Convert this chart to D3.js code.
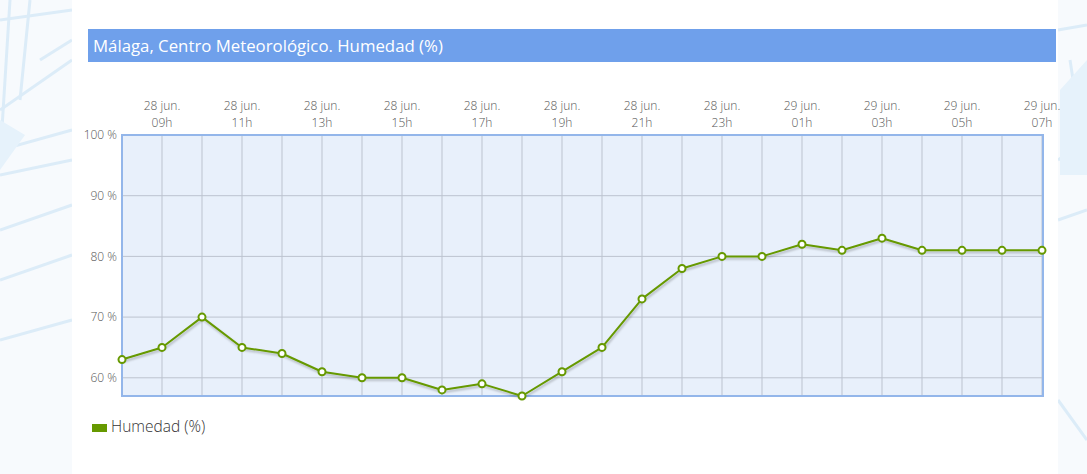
<!DOCTYPE html>
<html>
<head>
<meta charset="utf-8">
<script src="https://cdn.jsdelivr.net/npm/d3@7"></script>
<style>
  body { margin: 0; background: #f7fafd; font-family: "Open Sans", sans-serif; }
</style>
</head>
<body>
<div id="chart"></div>
<script>
// hourly humidity readings, 28 jun. 08h -> 29 jun. 07h
const days = ['28 jun.', '28 jun.', '28 jun.', '28 jun.', '28 jun.', '28 jun.', '28 jun.', '28 jun.',
              '28 jun.', '28 jun.', '28 jun.', '28 jun.', '28 jun.', '28 jun.', '28 jun.', '28 jun.',
              '29 jun.', '29 jun.', '29 jun.', '29 jun.', '29 jun.', '29 jun.', '29 jun.', '29 jun.'];
const hours = ['08h', '09h', '10h', '11h', '12h', '13h', '14h', '15h', '16h', '17h', '18h', '19h',
               '20h', '21h', '22h', '23h', '00h', '01h', '02h', '03h', '04h', '05h', '06h', '07h'];
const humidity = [63, 65, 70, 65, 64, 61, 60, 60, 58, 59, 57, 61,
                  65, 73, 78, 80, 80, 82, 81, 83, 81, 81, 81, 81];
const yTicks = [60, 70, 80, 90, 100];

const width = 1087;
const height = 474;

const svg = d3.select('#chart')
              .append('svg')
              .attr('width', width)
              .attr('height', height)
              .style('display', 'block');

// faint background pattern at the page edges
const bgLines = [
  [[0, 20], [72, 10]], [[0, 110], [72, 60]], [[0, 150], [72, 130]], [[0, 175], [72, 160]],
  [[0, 230], [72, 205]], [[0, 280], [72, 255]], [[0, 340], [72, 320]], [[10, 0], [0, 160]],
  [[30, 0], [20, 100]], [[40, 60], [72, 40]],
  [[1058, 30], [1087, 25]], [[1058, 160], [1087, 140]], [[1070, 60], [1087, 170]],
  [[1058, 220], [1087, 210]], [[1058, 400], [1087, 440]]
];
svg.append('g')
   .selectAll('line')
   .data(bgLines)
   .join('line')
     .attr('x1', d => d[0][0]).attr('y1', d => d[0][1])
     .attr('x2', d => d[1][0]).attr('y2', d => d[1][1])
     .attr('stroke', '#dcecf8')
     .attr('stroke-width', 3);
svg.append('path')
   .attr('d', 'M0,120 L25,135 L0,170 Z M1060,90 L1087,60 L1087,175 L1060,175 Z')
   .attr('fill', '#e6f2fb');

// white content panel
svg.append('rect')
   .attr('x', 72).attr('y', 0)
   .attr('width', 986).attr('height', height)
   .attr('fill', '#fff');

// title bar
svg.append('rect')
   .attr('x', 88).attr('y', 29)
   .attr('width', 968).attr('height', 33)
   .attr('fill', '#6fa0eb');
svg.append('text')
   .attr('x', 93).attr('y', 52)
   .attr('fill', '#fff')
   .attr('font-size', 16.8)
   .text('Málaga, Centro Meteorológico. Humedad (%)');

const x = d3.scaleLinear()
            .domain([0, humidity.length - 1])
            .range([122, 1042]);

const y = d3.scaleLinear()
            .domain([d3.min(humidity), 100])
            .range([396, 135]);

// plot background
svg.append('rect')
   .attr('x', x(0)).attr('y', y(100))
   .attr('width', x(humidity.length - 1) - x(0) + 1)
   .attr('height', y(d3.min(humidity)) - y(100))
   .attr('fill', '#e8f0fb');

// grid
svg.append('g')
   .selectAll('line')
   .data(d3.range(1, humidity.length))
   .join('line')
     .attr('x1', d => x(d)).attr('x2', d => x(d))
     .attr('y1', y(100)).attr('y2', y(d3.min(humidity)))
     .attr('stroke', '#bcc3cf')
     .attr('stroke-width', 1);

svg.append('g')
   .selectAll('line')
   .data(yTicks)
   .join('line')
     .attr('x1', x(0)).attr('x2', x(humidity.length - 1) + 1)
     .attr('y1', d => y(d)).attr('y2', d => y(d))
     .attr('stroke', '#bcc3cf')
     .attr('stroke-width', 1);

// frame
svg.append('rect')
   .attr('x', x(0)).attr('y', y(100))
   .attr('width', x(humidity.length - 1) - x(0) + 1)
   .attr('height', y(d3.min(humidity)) - y(100))
   .attr('fill', 'none')
   .attr('stroke', '#93b6ea')
   .attr('stroke-width', 2);

// y labels
svg.append('g')
   .selectAll('text')
   .data(yTicks)
   .join('text')
     .attr('x', 117)
     .attr('y', d => y(d))
     .attr('dy', '0.35em')
     .attr('text-anchor', 'end')
     .attr('font-size', 12)
     .attr('font-weight', 300)
     .attr('fill', '#555')
     .text(d => d + ' %');

// top time labels, every other hour
const labelIdx = d3.range(1, humidity.length, 2);
const topLabels = svg.append('g')
   .selectAll('text')
   .data(labelIdx)
   .join('text')
     .attr('text-anchor', 'middle')
     .attr('font-size', 12)
     .attr('font-weight', 300)
     .attr('fill', '#555');
topLabels.append('tspan')
   .attr('x', d => x(d)).attr('y', 110)
   .text(d => days[d]);
topLabels.append('tspan')
   .attr('x', d => x(d)).attr('y', 127)
   .text(d => hours[d]);

// line with shadow
const defs = svg.append('defs');
const shadow = defs.append('filter')
   .attr('id', 'shadow')
   .attr('x', '-5%').attr('y', '-20%')
   .attr('width', '110%').attr('height', '150%');
shadow.append('feDropShadow')
   .attr('dx', 1).attr('dy', 2)
   .attr('stdDeviation', 1.2)
   .attr('flood-color', '#000')
   .attr('flood-opacity', 0.25);

const line = d3.line()
               .x((d, i) => x(i))
               .y(d => y(d));

svg.append('path')
   .datum(humidity)
   .attr('fill', 'none')
   .attr('stroke', '#669900')
   .attr('stroke-width', 2)
   .attr('stroke-linejoin', 'round')
   .attr('filter', 'url(#shadow)')
   .attr('d', line);

svg.append('g')
   .selectAll('circle')
   .data(humidity)
   .join('circle')
     .attr('cx', (d, i) => x(i))
     .attr('cy', d => y(d))
     .attr('r', 3.5)
     .attr('fill', '#fff')
     .attr('stroke', '#669900')
     .attr('stroke-width', 2);

// legend
svg.append('rect')
   .attr('x', 92).attr('y', 424)
   .attr('width', 15).attr('height', 8)
   .attr('fill', '#669900');
svg.append('text')
   .attr('x', 111).attr('y', 432)
   .attr('font-size', 15.5)
   .attr('font-weight', 300)
   .attr('fill', '#333')
   .text('Humedad (%)');
</script>
</body>
</html>
